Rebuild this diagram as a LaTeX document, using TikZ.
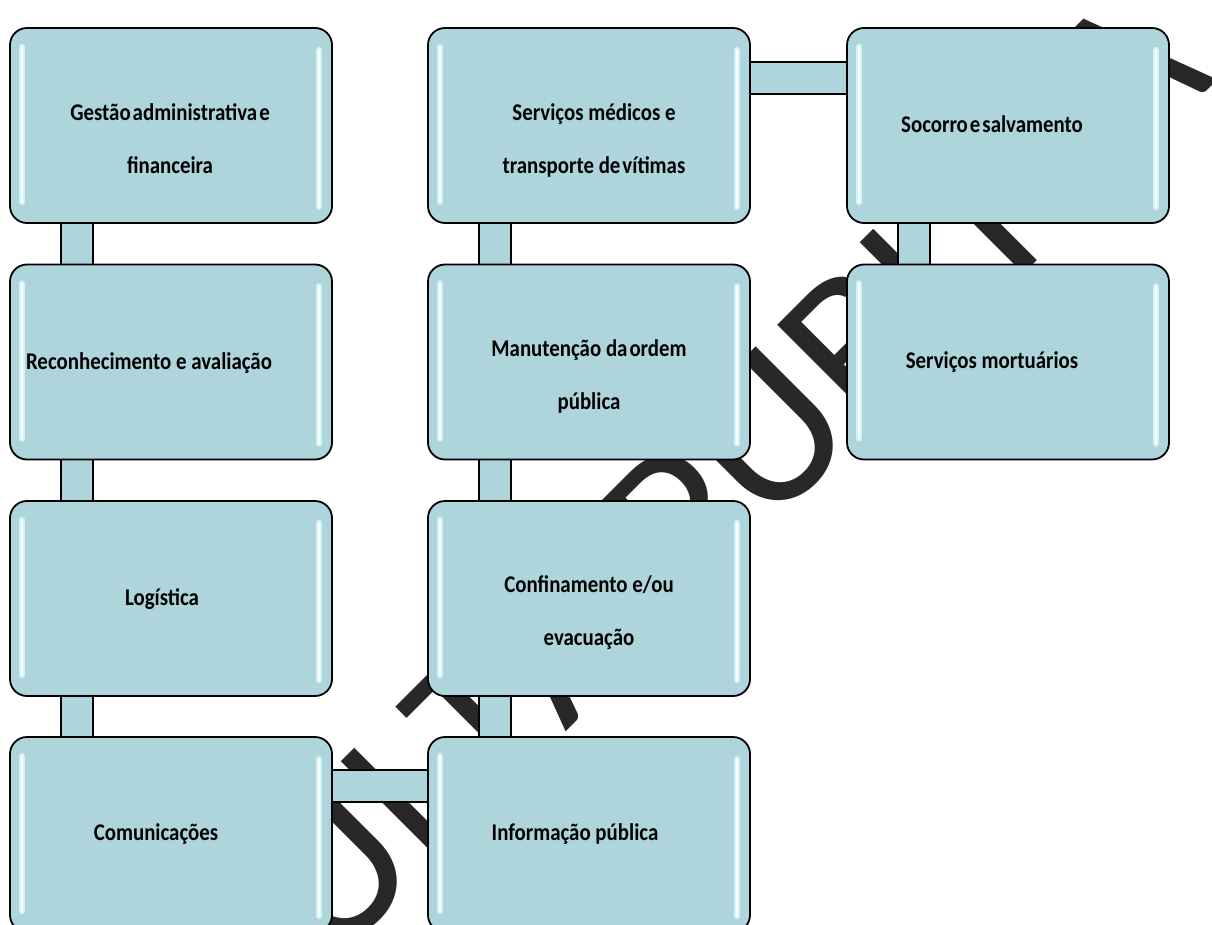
\documentclass[tikz,border=0pt]{standalone}
\usepackage{fontspec}
\newfontfamily\panelfont[FakeStretch=0.87]{Carlito}
\newfontfamily\markfont[Kerning=Off]{Carlito}
\newcommand\wsp{\kern2pt}
\definecolor{panelfill}{RGB}{174,213,219}
\definecolor{glowcyan}{RGB}{212,243,247}
\definecolor{markgray}{RGB}{40,40,40}
\pgfdeclarelayer{mark}
\pgfdeclarelayer{links}
\pgfsetlayers{mark,links,main}

\begin{document}
\begin{tikzpicture}[x=1pt,y=-1pt,
  panel/.style={draw=black,line width=1.8pt,fill=panelfill,rounded corners=17pt,
    minimum width=322pt,minimum height=195pt,inner sep=0pt,outer sep=0pt,anchor=north west},
  link/.style={draw=black,line width=1.8pt,double=panelfill,double distance=30.4pt},
  shine/.style={draw=white,line width=2.6pt,line cap=round,
    preaction={draw=glowcyan,line width=6.5pt,line cap=round}},
  caption/.style={font=\panelfont\bfseries\fontsize{24}{53}\selectfont,align=center,inner sep=0pt}]

\useasboundingbox (0,0) rectangle (1212,925);

% background and the diagonal stamp behind everything
\begin{pgfonlayer}{mark}
\fill[white] (0,0) rectangle (1212,925);
\node[rotate=45,anchor=base east,inner sep=0pt,text=markgray,
  font=\markfont\fontsize{215}{215}\selectfont] (stamp) at (1218.5,79.5) {CONSULTA PÚBLICA};
\end{pgfonlayer}

% panels
\node[panel] (admin)  at (10,28)    {};
\node[panel] (recon)  at (10,264.5) {};
\node[panel] (logis)  at (10,501)   {};
\node[panel] (comms)  at (10,737)   {};
\node[panel] (medic)  at (428,28)   {};
\node[panel] (order)  at (428,264.5){};
\node[panel] (evac)   at (428,501)  {};
\node[panel] (info)   at (428,737)  {};
\node[panel] (rescue) at (847,28)   {};
\node[panel] (mortu)  at (847,264.5){};

% connecting bars
\begin{pgfonlayer}{links}
\draw[link] ([xshift=67pt]admin.south west) -- ([xshift=67pt]recon.north west);
\draw[link] ([xshift=67pt]recon.south west) -- ([xshift=67pt]logis.north west);
\draw[link] ([xshift=67pt]logis.south west) -- ([xshift=67pt]comms.north west);
\draw[link] ([xshift=67pt]medic.south west) -- ([xshift=67pt]order.north west);
\draw[link] ([xshift=67pt]order.south west) -- ([xshift=67pt]evac.north west);
\draw[link] ([xshift=67pt]evac.south west)  -- ([xshift=67pt]info.north west);
\draw[link] ([xshift=67pt]rescue.south west) -- ([xshift=67pt]mortu.north west);
\draw[link] ([yshift=-50pt]medic.north east) -- ([yshift=-50pt]rescue.north west);
\draw[link] ([yshift=-49pt]comms.north east) -- ([yshift=-49pt]info.north west);
\end{pgfonlayer}

% glossy highlights along the panel sides
\foreach \p in {admin,recon,logis,comms,medic,order,evac,info,rescue,mortu}{
  \draw[shine] ([xshift=12pt,yshift=-19pt]\p.north west) -- ([xshift=12pt,yshift=21pt]\p.south west);
  \draw[shine] ([xshift=-13pt,yshift=-22pt]\p.north east) -- ([xshift=-13pt,yshift=16pt]\p.south east);
}

% captions
\node[caption] (adminT) at (170,139) {Gestão\wsp administrativa\wsp e\\financeira};
\node[caption,anchor=base] (reconT) at (149,369) {Reconhecimento e avaliação};
\node[caption,anchor=base] (logisT) at (162,605) {Logística};
\node[caption,anchor=base] (commsT) at (156,840) {Comunicações};
\node[caption] (medicT) at (594,140.5) {Serviços médicos e\\transporte de\wsp vítimas};
\node[caption] (orderT) at (589,376.5) {Manutenção da\wsp ordem\\pública};
\node[caption] (evacT) at (589,612.5) {Confinamento e/ou\\evacuação};
\node[caption,anchor=base] (infoT) at (575,840) {Informação pública};
\node[caption,anchor=base] (rescueT) at (992,133) {Socorro\wsp e\wsp salvamento};
\node[caption,anchor=base] (mortuT) at (992,368) {Serviços mortuários};
\end{tikzpicture}
\end{document}
